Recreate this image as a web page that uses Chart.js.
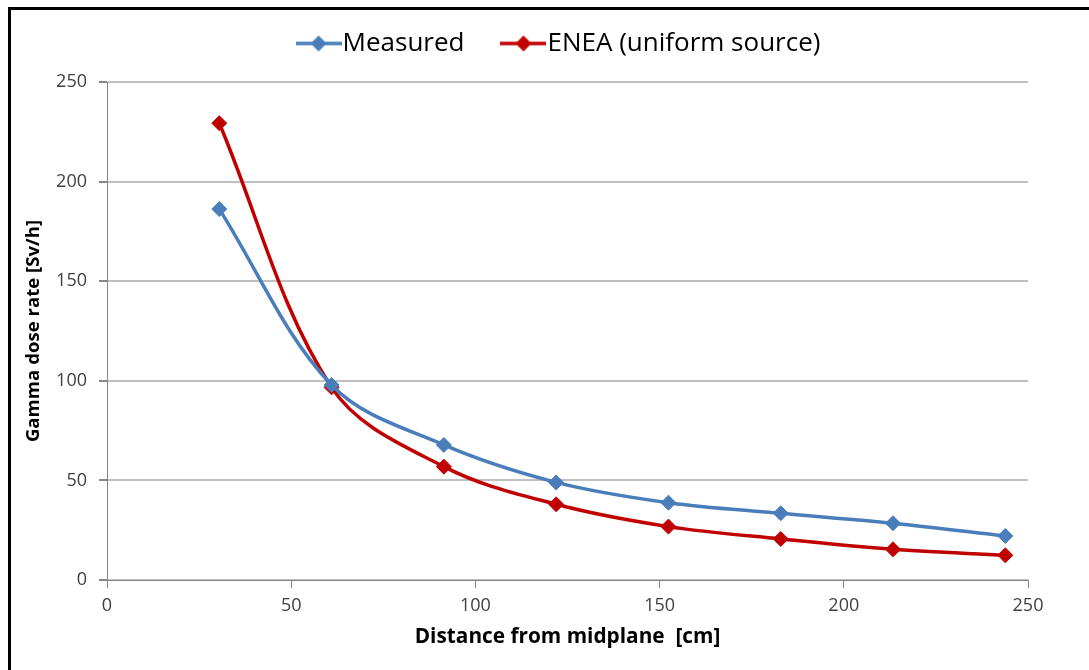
<!DOCTYPE html>
<html>
<head>
<meta charset="utf-8">
<script src="https://cdn.jsdelivr.net/npm/chart.js@4"></script>
<style>
  html, body { margin: 0; padding: 0; background: #fff; }
  #wrap { width: 1089px; height: 670px; position: relative; }
</style>
</head>
<body>
<div id="wrap"><canvas id="c" width="1089" height="670"></canvas></div>
<script>
// ---- data ----
const distances = [30.48, 60.96, 91.44, 121.92, 152.4, 182.88, 213.36, 243.84];
const measured = [186.2, 97.9, 67.8, 49.0, 38.8, 33.5, 28.5, 22.1];
const enea = [229.3, 96.7, 56.9, 38.0, 26.8, 20.6, 15.4, 12.4];
const seriesNames = ['Measured', 'ENEA (uniform source)'];
const xTitle = 'Distance from midplane  [cm]';
const yTitle = 'Gamma dose rate [Sv/h]';

const BLUE = '#4a7ebb';
const RED = '#c00000';
const FONT = '"Open Sans", Lato, sans-serif';

function legendIcon(color) {
  const cv = document.createElement('canvas');
  cv.width = 46; cv.height = 20;
  const g = cv.getContext('2d');
  g.strokeStyle = color; g.lineWidth = 3.5;
  g.beginPath(); g.moveTo(0, 10); g.lineTo(46, 10); g.stroke();
  g.fillStyle = color;
  g.beginPath(); g.moveTo(23, 2); g.lineTo(31, 10); g.lineTo(23, 18); g.lineTo(15, 10); g.closePath(); g.fill();
  return cv;
}

function toPts(xs, ys) { return xs.map((x, i) => ({x: x, y: ys[i]})); }

const frame = {
  id: 'frame',
  beforeInit(chart) {
    const orig = chart.legend.fit;
    chart.legend.fit = function () { orig.call(this); this.height = 82; };
  },
  afterLayout(chart) {
    const lg = chart.legend;
    lg.top = -17.5;
    lg.left += 50; lg.right += 50;
  },
  afterDraw(chart) {
    const g = chart.ctx;
    g.save();
    g.fillStyle = '#000';
    g.fillRect(8, 7, 1200, 3);
    g.fillRect(8, 7, 3, 800);
    g.restore();
  }
};

new Chart(document.getElementById('c'), {
  type: 'line',
  data: {
    datasets: [
      { label: seriesNames[0], data: toPts(distances, measured), borderColor: BLUE, backgroundColor: BLUE,
        borderWidth: 3.5, pointStyle: 'rectRot', pointRadius: 7.5, pointBorderWidth: 1, tension: 0.35, fill: false },
      { label: seriesNames[1], data: toPts(distances, enea), borderColor: RED, backgroundColor: RED,
        borderWidth: 3.5, pointStyle: 'rectRot', pointRadius: 7.5, pointBorderWidth: 1, tension: 0.35, fill: false }
    ]
  },
  options: {
    responsive: false,
    animation: false,
    layout: { padding: { left: 0, right: 61, top: 0, bottom: 0 } },
    plugins: {
      tooltip: { enabled: false },
      legend: {
        display: true,
        position: 'top',
        labels: {
          usePointStyle: true,
          pointStyleWidth: 22,
          padding: 48,
          color: '#000',
          font: { family: FONT, size: 26 },
          generateLabels(chart) {
            return chart.data.datasets.map((d, i) => ({
              text: d.label, pointStyle: legendIcon(d.borderColor), fillStyle: d.borderColor,
              strokeStyle: d.borderColor, lineWidth: 0, hidden: false, datasetIndex: i, fontColor: '#000'
            }));
          }
        }
      }
    },
    scales: {
      x: {
        type: 'linear', min: 0, max: 250,
        ticks: { stepSize: 50, color: '#404040', padding: 7, font: { family: FONT, size: 18 } },
        grid: { drawOnChartArea: false, drawTicks: true, tickLength: 8, tickColor: '#868686' },
        border: { color: '#868686', width: 1 },
        title: { display: true, text: xTitle, color: '#000', font: { family: FONT, size: 20.8, weight: 'bold' }, padding: { top: 0, bottom: 20.5 } },
        afterFit(s) { s.height = 90; }
      },
      y: {
        type: 'linear', min: 0, max: 250,
        ticks: { stepSize: 50, color: '#404040', padding: 12, font: { family: FONT, size: 18 } },
        grid: { color: '#c0c0c0', lineWidth: 2, tickLength: 8, tickColor: '#868686' },
        border: { color: '#868686', width: 1 },
        title: { display: true, text: yTitle, color: '#000', font: { family: FONT, size: 18.6, weight: 'bold' }, padding: { top: 22.5, bottom: 0 } },
        afterFit(s) { s.width = 107; }
      }
    }
  },
  plugins: [frame]
});
</script>
</body>
</html>
